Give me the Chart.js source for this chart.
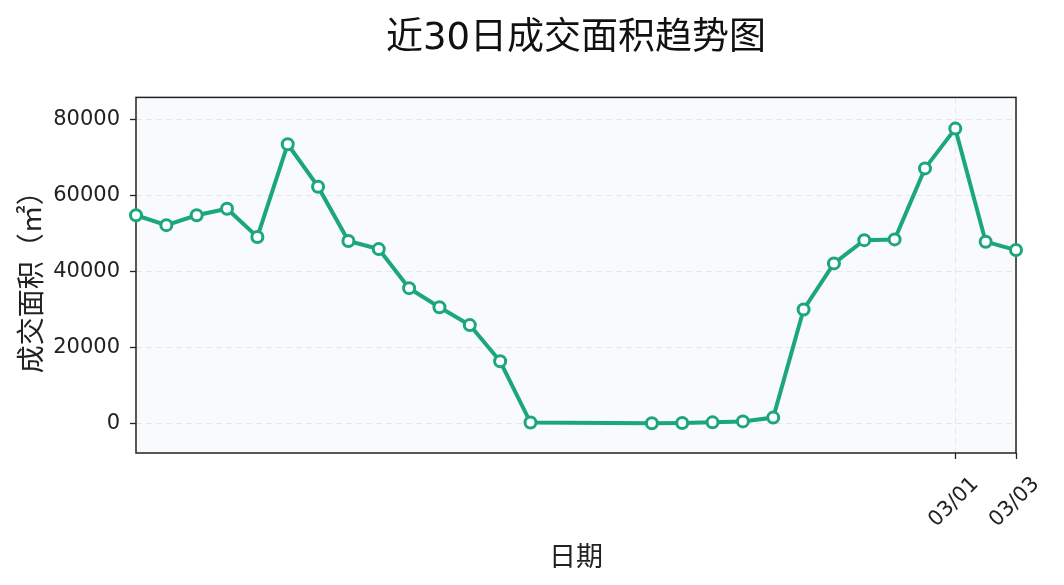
<!DOCTYPE html>
<html>
<head>
<meta charset="utf-8">
<script src="https://cdn.jsdelivr.net/npm/chart.js@4/dist/chart.umd.min.js"></script>
<style>
  html, body { margin: 0; padding: 0; background: #fff; }
</style>
</head>
<body>
<canvas id="chart" width="1064" height="585"></canvas>
<script>
// 近30日成交面积 (m²), 2025
const year = 2025;
const dates = [
    '02-02', '02-03', '02-04', '02-05', '02-06', '02-07', '02-08', '02-09',
    '02-10', '02-11', '02-12', '02-13', '02-14', '02-15',
    '02-19', '02-20', '02-21', '02-22', '02-23', '02-24', '02-25', '02-26',
    '02-27', '02-28', '03-01', '03-02', '03-03'
];
const areas = [
    54750, 52150, 54750, 56450, 49050, 73400, 62250, 48000,
    45850, 35600, 30600, 25900, 16400, 300,
    100, 180, 350, 600, 1600, 30000, 42100, 48200,
    48400, 67050, 77500, 47800, 45600
];
const xTickDates = ['03-01', '03-03'];
const yTicks = [0, 20000, 40000, 60000, 80000];
const yRange = [-7700, 85700];

const lineColor = '#1ba77a';
const fontFamily = 'DejaVu Sans, "Noto Sans CJK SC", sans-serif';

function dayNum(md) {
    const parts = md.split('-').map(Number);
    return Date.UTC(year, parts[0] - 1, parts[1]) / 86400000;
}

function fmtDay(day) {
    const dt = new Date(day * 86400000);
    const mm = String(dt.getUTCMonth() + 1).padStart(2, '0');
    const dd = String(dt.getUTCDate()).padStart(2, '0');
    return mm + '/' + dd;
}

const points = dates.map(function(d, i) {
    return { x: dayNum(d), y: areas[i] };
});

const framePlugin = {
    id: 'frame',
    beforeDraw: function(chart) {
        const a = chart.chartArea;
        const ctx = chart.ctx;
        ctx.save();
        ctx.fillStyle = '#f8fafc';
        ctx.fillRect(a.left, a.top, a.right - a.left, a.bottom - a.top);
        ctx.restore();
    },
    beforeDatasetsDraw: function(chart) {
        const a = chart.chartArea;
        const ctx = chart.ctx;
        ctx.save();
        ctx.strokeStyle = '#222';
        ctx.lineWidth = 1.5;
        ctx.strokeRect(a.left, a.top, a.right - a.left, a.bottom - a.top);
        ctx.restore();
    }
};

Chart.defaults.font.family = fontFamily;
Chart.defaults.color = '#222';

new Chart(document.getElementById('chart').getContext('2d'), {
    type: 'line',
    data: {
        datasets: [{
            label: '成交面积',
            data: points,
            borderColor: lineColor,
            borderWidth: 4,
            pointRadius: 5.5,
            pointBorderWidth: 3,
            pointBackgroundColor: '#ffffff',
            pointBorderColor: lineColor,
            tension: 0,
            clip: false
        }]
    },
    options: {
        responsive: false,
        devicePixelRatio: 1,
        animation: false,
        layout: { padding: { left: 0, right: 48, top: 0, bottom: 0 } },
        plugins: {
            legend: { display: false },
            tooltip: { enabled: false },
            title: {
                display: true,
                text: '近30日成交面积趋势图',
                fullSize: false,
                color: '#111',
                font: { size: 37, weight: 'normal' },
                padding: { top: 17, bottom: 36 }
            }
        },
        scales: {
            x: {
                type: 'linear',
                min: dayNum(dates[0]),
                max: dayNum(dates[dates.length - 1]),
                afterBuildTicks: function(scale) {
                    scale.ticks = xTickDates.map(function(d) { return { value: dayNum(d) }; });
                },
                afterFit: function(scale) { scale.height = 132; },
                ticks: {
                    autoSkip: false,
                    minRotation: 45,
                    maxRotation: 45,
                    labelOffset: 20,
                    padding: 13,
                    font: { size: 21 },
                    callback: function(v) { return fmtDay(v); }
                },
                grid: {
                    color: '#e3e8ee',
                    lineWidth: 1,
                    tickLength: 6,
                    tickColor: '#222',
                    tickWidth: 1.3,
                    tickBorderDash: []
                },
                border: { display: false, dash: [6, 4] },
                title: {
                    display: true,
                    text: '日期',
                    font: { size: 27 },
                    padding: { top: 0, bottom: 10 }
                }
            },
            y: {
                min: yRange[0],
                max: yRange[1],
                afterBuildTicks: function(scale) {
                    scale.ticks = yTicks.map(function(v) { return { value: v }; });
                },
                afterFit: function(scale) { scale.width = 136; },
                ticks: {
                    padding: 10,
                    font: { size: 21 },
                    callback: function(v) { return String(v); }
                },
                grid: {
                    color: '#e3e8ee',
                    lineWidth: 1,
                    tickLength: 6,
                    tickColor: '#222',
                    tickWidth: 1.3,
                    tickBorderDash: []
                },
                border: { display: false, dash: [6, 4] },
                title: {
                    display: true,
                    text: '成交面积（㎡）',
                    font: { size: 28 },
                    padding: { top: 17, bottom: 0 }
                }
            }
        }
    },
    plugins: [framePlugin]
});
</script>
</body>
</html>
